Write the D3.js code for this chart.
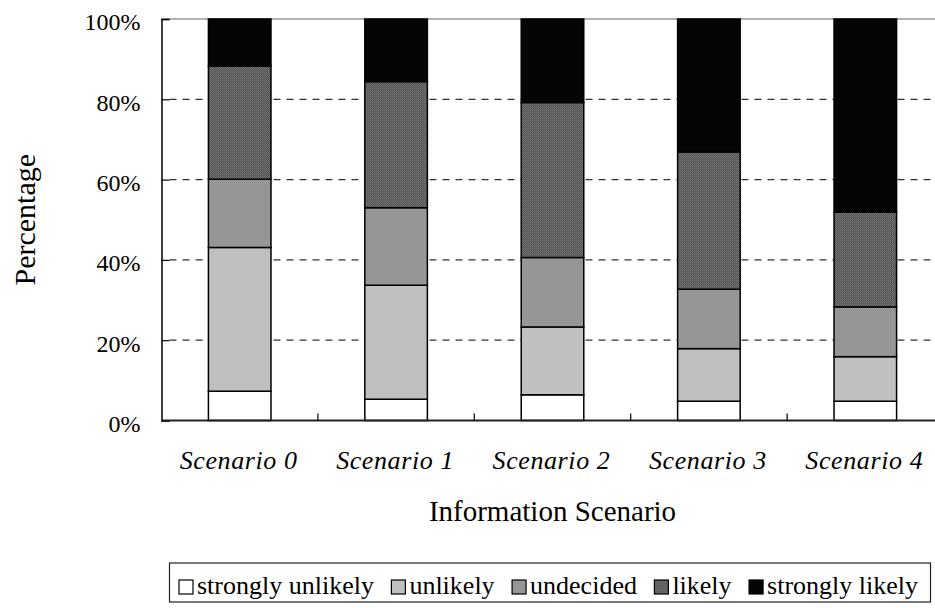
<!DOCTYPE html>
<html>
<head>
<meta charset="utf-8">
<script src="https://cdn.jsdelivr.net/npm/d3@7"></script>
<style>
  html, body { margin: 0; padding: 0; background: #fff; }
  svg { display: block; overflow: hidden; }
  text { font-family: "Liberation Serif", "Times New Roman", serif; fill: #000; }
</style>
</head>
<body>
<svg id="chart" width="935" height="608"></svg>
<script>
// ---- data ----
const categories = ["Scenario 0", "Scenario 1", "Scenario 2", "Scenario 3", "Scenario 4"];
const seriesNames = ["strongly unlikely", "unlikely", "undecided", "likely", "strongly likely"];
const stronglyUnlikely = [7.3, 5.3, 6.4, 4.8, 4.8];
const unlikely = [35.8, 28.4, 16.9, 13.1, 11.1];
const undecided = [17.0, 19.3, 17.3, 14.8, 12.4];
const likely = [28.2, 31.4, 38.6, 34.2, 23.6];
const stronglyLikely = [11.7, 15.6, 20.8, 33.1, 48.1];
const yTicks = [0, 20, 40, 60, 80, 100];
const yTickLabels = ["0%", "20%", "40%", "60%", "80%", "100%"];

const seriesValues = [stronglyUnlikely, unlikely, undecided, likely, stronglyLikely];
const rows = categories.map((c, i) => {
  const r = { category: c };
  seriesNames.forEach((s, k) => { r[s] = seriesValues[k][i]; });
  return r;
});

// ---- layout ----
const svg = d3.select("#chart");
const pLeft = 161.5, pRight = 943.5, pTop = 19, pBottom = 420.5;

const x = d3.scaleBand().domain(categories).range([pLeft, pRight])
  .paddingInner(0.6).paddingOuter(0.3);
const y = d3.scaleLinear().domain([0, 100]).range([pBottom, pTop]);

const fills = {
  "strongly unlikely": "#ffffff",
  "unlikely": "#c0c0c0",
  "undecided": "#969696",
  "likely": "url(#likelyPat)",
  "strongly likely": "#050505"
};

const defs = svg.append("defs");
const pat = defs.append("pattern").attr("id", "likelyPat")
  .attr("patternUnits", "userSpaceOnUse").attr("width", 2).attr("height", 2);
pat.append("rect").attr("width", 2).attr("height", 2).attr("fill", "#555555");
pat.append("rect").attr("x", 0).attr("y", 0).attr("width", 1).attr("height", 1).attr("fill", "#767676");
pat.append("rect").attr("x", 1).attr("y", 1).attr("width", 1).attr("height", 1).attr("fill", "#6a6a6a");

// gridlines
svg.append("g").selectAll("line").data(yTicks.filter(t => t > 0 && t < 100)).join("line")
  .attr("x1", pLeft + 8).attr("x2", 935)
  .attr("y1", d => y(d)).attr("y2", d => y(d))
  .attr("stroke", "#333").attr("stroke-width", 1.2)
  .attr("stroke-dasharray", "7,6");

// top border
svg.append("line").attr("x1", pLeft).attr("x2", 935).attr("y1", y(100)).attr("y2", y(100))
  .attr("stroke", "#999").attr("stroke-width", 1.5);

// bars
const stack = d3.stack().keys(seriesNames);
const stacked = stack(rows);
svg.append("g").selectAll("g").data(stacked).join("g")
  .attr("fill", d => fills[d.key])
  .selectAll("rect").data(d => d).join("rect")
  .attr("x", d => x(d.data.category))
  .attr("width", x.bandwidth())
  .attr("y", d => y(d[1]))
  .attr("height", d => y(d[0]) - y(d[1]))
  .attr("stroke", "#000").attr("stroke-width", 1.5);

// y axis
const yAxis = d3.axisLeft(y).tickValues(yTicks).tickSize(-8)
  .tickFormat((d, i) => yTickLabels[i]);
const ya = svg.append("g").attr("transform", `translate(${pLeft},0)`).call(yAxis);
ya.select(".domain").attr("stroke", "#000").attr("stroke-width", 1.5);
ya.selectAll(".tick line").attr("stroke", "#000").attr("stroke-width", 1.2);
ya.selectAll(".tick text")
  .attr("x", -21).attr("dy", "0.45em")
  .style("font-family", "'Liberation Serif', serif").style("font-size", "24px").attr("fill", "#000");

// x axis baseline
svg.append("line").attr("x1", pLeft).attr("x2", 935).attr("y1", pBottom).attr("y2", pBottom)
  .attr("stroke", "#222").attr("stroke-width", 1.8);

// category boundary ticks
const step = x.step();
svg.append("g").selectAll("line").data(categories.slice(1)).join("line")
  .attr("x1", d => x(d) - step * 0.3).attr("x2", d => x(d) - step * 0.3)
  .attr("y1", pBottom).attr("y2", pBottom - 7)
  .attr("stroke", "#000").attr("stroke-width", 1.2);

// x labels
svg.append("g").selectAll("text").data(categories).join("text")
  .attr("x", d => x(d) + x.bandwidth() / 2 - 1)
  .attr("y", 469)
  .attr("text-anchor", "middle")
  .style("font-style", "italic").style("font-size", "26px").style("letter-spacing", "0.6px")
  .text(d => d);

// axis titles
svg.append("text").attr("x", (pLeft + pRight) / 2).attr("y", 521)
  .attr("text-anchor", "middle").style("font-size", "29px").text("Information Scenario");
svg.append("text").attr("transform", `translate(35,${(pTop + pBottom) / 2}) rotate(-90)`)
  .attr("text-anchor", "middle").style("font-size", "30px").text("Percentage");

// legend
const lg = svg.append("g");
lg.append("rect").attr("x", 169.5).attr("y", 563).attr("width", 761).attr("height", 39)
  .attr("fill", "#fff").attr("stroke", "#222").attr("stroke-width", 1.2);
const items = lg.selectAll("g.item").data(seriesNames).join("g").attr("class", "item");
items.append("rect").attr("x", 0).attr("y", -14).attr("width", 14).attr("height", 14)
  .attr("fill", d => fills[d]).attr("stroke", "#000").attr("stroke-width", 1.2);
items.append("text").attr("x", 18).attr("y", 0).style("font-size", "26px").text(d => d);
const widths = [];
items.each(function () { widths.push(18 + d3.select(this).select("text").node().getComputedTextLength()); });
const lStart = 179, lEnd = 918;
const gap = (lEnd - lStart - d3.sum(widths)) / (widths.length - 1);
let cx = lStart;
items.each(function (d, i) {
  d3.select(this).attr("transform", `translate(${cx},594)`);
  cx += widths[i] + gap;
});
</script>
</body>
</html>
